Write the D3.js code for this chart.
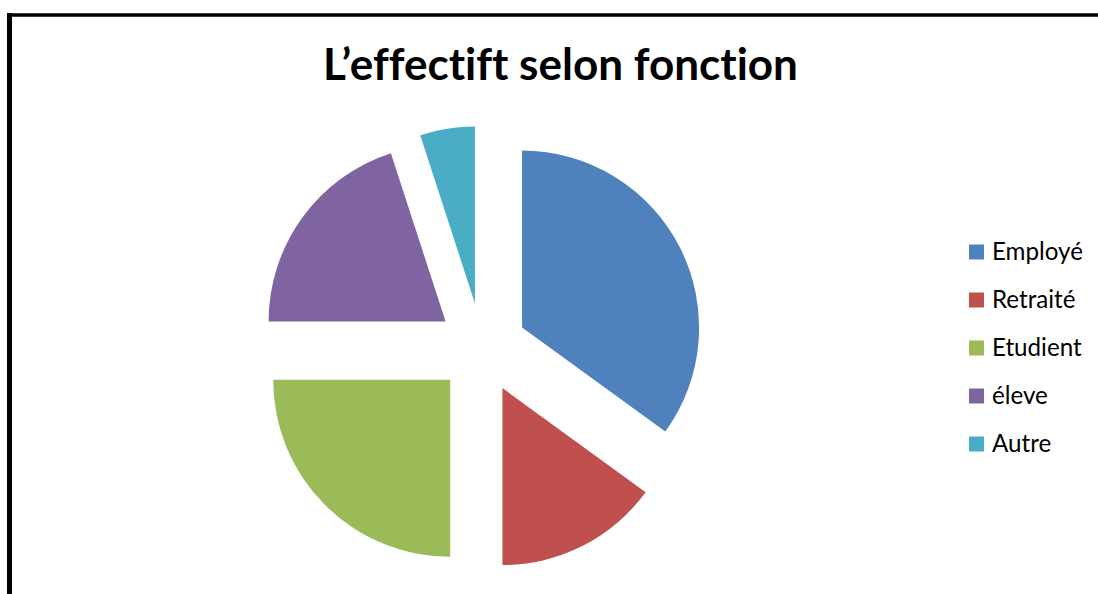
<!DOCTYPE html>
<html>
<head>
<meta charset="utf-8">
<script src="https://cdn.jsdelivr.net/npm/d3@7"></script>
<style>
  html, body { margin: 0; padding: 0; background: #fff; }
  svg { display: block; }
  text { font-variant-ligatures: none; font-feature-settings: "liga" 0, "clig" 0, "dlig" 0; }
</style>
</head>
<body>
<svg id="chart" width="1098" height="594"></svg>
<script>
// Répartition de l'effectif par fonction (%)
const categories = ["Employé", "Retraité", "Etudient", "éleve", "Autre"];
const values = [35, 15, 25, 20, 5];
const colors = ["#4F81BD", "#C0504D", "#9BBB59", "#8064A2", "#4BACC6"];
const titleText = "L\u2019effectift selon fonction";

const W = 1098, H = 594;
const svg = d3.select("#chart");

// Cadre du graphique (bords gauche et haut visibles)
svg.append("line").attr("x1", 9.5).attr("x2", 9.5).attr("y1", 13).attr("y2", H)
  .attr("stroke", "#000").attr("stroke-width", 5);
svg.append("line").attr("x1", 7).attr("x2", W).attr("y1", 15).attr("y2", 15)
  .attr("stroke", "#000").attr("stroke-width", 3.5);

// Titre
const title = svg.append("text")
  .attr("x", 560.5).attr("y", 80)
  .attr("text-anchor", "middle")
  .style("font-family", "Lato, 'Open Sans', sans-serif")
  .style("font-weight", "bold")
  .style("font-size", "40px")
  .attr("fill", "#000")
  .text(titleText);
{
  const w = title.node().getComputedTextLength();
  title.style("font-size", (40 * 475 / w).toFixed(2) + "px");
}

// Camembert éclaté
const cx = 482, cy = 348, radius = 177, explode = 45;
const pie = d3.pie().sort(null).value(d => d).startAngle(0).endAngle(2 * Math.PI);
const arc = d3.arc().innerRadius(0).outerRadius(radius);
const color = d3.scaleOrdinal().domain(categories).range(colors);

const slices = pie(values);
svg.append("g").attr("transform", `translate(${cx},${cy})`)
  .selectAll("path")
  .data(slices)
  .join("path")
  .attr("d", arc)
  .attr("fill", (d, i) => color(categories[i]))
  .attr("transform", d => {
    const a = (d.startAngle + d.endAngle) / 2;
    return `translate(${explode * Math.sin(a)},${-explode * Math.cos(a)})`;
  });

// Légende
const legendY = d3.scalePoint().domain(categories).range([252, 444]);
const legend = svg.append("g");
const rows = legend.selectAll("g").data(categories).join("g")
  .attr("transform", d => `translate(969,${legendY(d)})`);
rows.append("rect").attr("x", 0).attr("y", -7.5).attr("width", 15).attr("height", 15)
  .attr("fill", d => color(d));
const labels = rows.append("text")
  .attr("x", 23).attr("y", 7.5)
  .style("font-family", "Lato, 'Open Sans', sans-serif")
  .style("font-size", "20px")
  .attr("fill", "#000")
  .text(d => d);
{
  const w = labels.filter((d, i) => i === 0).node().getComputedTextLength();
  labels.style("font-size", (20 * 91 / w).toFixed(2) + "px");
}
</script>
</body>
</html>
